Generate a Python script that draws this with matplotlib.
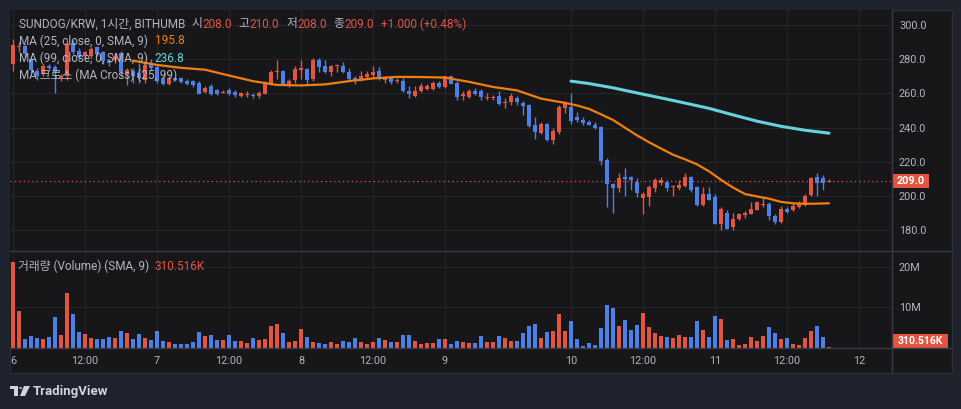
import numpy as np
import matplotlib
matplotlib.use('Agg')
import matplotlib.pyplot as plt
import matplotlib.transforms as mtransforms
from matplotlib.patches import Rectangle, Polygon, Circle

# --- data (1h candles, SUNDOG/KRW) ---
opens = [277.1, 287.0, 288.0, 280.4, 273.0, 271.6, 276.0, 275.5, 269.3, 270.0,
         289.5, 285.0, 282.0, 282.0, 287.0, 284.0, 279.0, 279.5, 283.5, 271.5,
         273.0, 272.0, 268.0, 277.5, 275.5, 268.7, 265.8, 269.0, 269.0, 267.5,
         267.3, 266.1, 260.9, 264.4, 261.9, 260.4, 261.9, 260.9, 258.4, 258.9,
         259.3, 258.6, 259.9, 265.8, 272.5, 273.2, 265.4, 268.1, 274.0, 274.1,
         268.7, 279.8, 275.9, 272.6, 276.0, 275.9, 272.6, 269.3, 268.1, 269.7,
         270.6, 273.2, 268.1, 269.3, 267.5, 267.3, 261.5, 258.6, 261.5, 262.8,
         262.8, 266.1, 263.8, 270.0, 266.1, 258.8, 258.0, 261.5, 261.5, 257.2,
         257.3, 258.6, 254.3, 255.0, 257.4, 254.5, 253.1, 241.6, 236.9, 242.0,
         233.0, 237.5, 251.5, 252.1, 246.3, 244.7, 243.3, 241.8, 240.4, 220.9,
         206.9, 204.7, 211.2, 211.2, 208.3, 199.1, 199.5, 204.7, 207.7, 208.3,
         205.3, 204.7, 205.9, 211.2, 205.3, 195.0, 201.4, 199.5, 183.9, 190.1,
         182.0, 186.8, 188.8, 189.7, 192.1, 195.0, 195.6, 188.2, 184.9, 192.7,
         192.1, 193.6, 195.0, 200.8, 211.2, 210.6, 208.0]
highs = [292.1, 290.0, 289.0, 282.0, 275.0, 277.0, 277.0, 276.5, 271.5, 291.0,
         291.0, 286.5, 285.0, 287.0, 288.0, 285.0, 280.0, 283.0, 285.0, 275.0,
         275.0, 278.0, 278.0, 280.0, 277.0, 270.0, 270.0, 269.5, 269.5, 268.5,
         268.0, 267.0, 264.5, 265.5, 262.5, 262.0, 263.0, 262.0, 261.0, 261.5,
         260.5, 261.5, 267.0, 274.0, 279.8, 274.0, 268.7, 276.0, 279.8, 275.0,
         280.5, 280.5, 279.8, 276.5, 277.5, 278.4, 275.0, 270.3, 273.2, 273.2,
         275.9, 275.5, 270.0, 270.0, 269.3, 269.3, 264.2, 264.2, 266.0, 265.8,
         267.0, 267.3, 270.5, 270.5, 267.0, 261.5, 262.5, 263.2, 262.5, 260.3,
         259.0, 261.5, 257.4, 260.3, 258.6, 255.6, 254.0, 246.3, 243.3, 243.0,
         240.0, 253.5, 255.5, 260.3, 249.2, 246.3, 244.3, 243.3, 241.0, 222.3,
         207.5, 213.5, 216.6, 212.0, 210.6, 202.4, 206.3, 210.6, 211.2, 209.2,
         206.3, 209.2, 213.5, 212.0, 206.0, 205.3, 205.3, 201.4, 193.5, 191.7,
         190.1, 190.1, 191.0, 196.6, 197.0, 199.5, 196.6, 189.7, 194.2, 193.6,
         196.0, 197.2, 201.4, 211.2, 213.5, 212.6, 210.0]
lows = [273.0, 284.0, 281.0, 272.0, 268.0, 270.0, 273.0, 260.5, 267.0, 268.0,
        283.0, 280.0, 281.0, 281.0, 282.0, 277.0, 276.0, 278.0, 270.0, 265.0,
        266.0, 266.0, 266.0, 274.0, 266.0, 265.0, 265.0, 267.5, 266.0, 265.0,
        264.0, 259.5, 260.0, 259.0, 259.0, 260.0, 259.0, 258.0, 258.0, 258.0,
        257.5, 257.5, 259.5, 265.0, 268.7, 265.0, 263.8, 266.0, 268.7, 265.8,
        267.5, 272.6, 272.0, 270.3, 272.6, 272.0, 268.0, 265.8, 267.3, 268.7,
        269.7, 268.1, 266.3, 265.8, 266.1, 261.0, 257.6, 258.0, 261.0, 261.8,
        262.0, 263.2, 263.0, 265.5, 256.4, 256.4, 257.5, 259.0, 256.4, 256.4,
        256.4, 253.5, 251.5, 253.5, 253.5, 247.6, 240.4, 233.6, 236.1, 232.2,
        230.7, 236.5, 248.6, 242.4, 243.3, 241.8, 241.4, 239.4, 218.0, 193.6,
        190.1, 202.4, 200.1, 203.4, 199.5, 189.7, 194.2, 202.4, 206.3, 202.8,
        200.1, 203.4, 205.3, 202.4, 194.2, 194.5, 197.5, 183.5, 180.4, 180.5,
        180.4, 186.3, 187.4, 189.5, 191.7, 193.6, 185.8, 183.5, 184.3, 190.1,
        191.3, 193.0, 194.5, 200.1, 200.1, 203.8, 208.0]
closes = [288.2, 287.5, 283.0, 273.6, 270.0, 275.9, 275.0, 272.5, 270.0, 289.0,
          284.5, 281.5, 284.0, 286.0, 283.0, 279.0, 278.0, 282.0, 272.5, 273.5,
          270.0, 269.0, 276.5, 275.1, 267.1, 265.8, 269.1, 268.0, 266.7, 265.8,
          264.8, 259.9, 263.4, 259.5, 259.9, 260.6, 259.9, 258.9, 260.5, 259.1,
          258.4, 260.3, 265.8, 272.6, 273.0, 265.4, 267.3, 274.5, 274.5, 268.1,
          279.8, 275.5, 272.6, 275.9, 276.3, 272.6, 268.7, 268.1, 270.0, 271.6,
          272.6, 268.7, 269.3, 266.7, 267.8, 261.5, 259.9, 261.5, 264.2, 264.2,
          266.1, 263.8, 270.0, 265.8, 258.0, 259.2, 261.5, 259.9, 258.0, 257.5,
          257.5, 254.1, 254.6, 258.6, 255.0, 252.7, 241.0, 237.5, 242.0, 232.6,
          238.1, 252.1, 254.5, 243.9, 244.7, 242.8, 241.8, 240.0, 220.5, 206.9,
          204.7, 210.6, 210.2, 209.2, 202.0, 201.4, 205.3, 209.2, 209.2, 204.7,
          205.5, 206.3, 211.2, 203.8, 195.0, 201.4, 197.9, 183.9, 192.7, 181.0,
          186.9, 189.3, 190.1, 192.7, 196.6, 195.3, 188.2, 184.9, 192.7, 190.7,
          194.2, 196.0, 200.1, 210.6, 207.9, 207.9, 209.0]
volume_m = [21.3, 9.2, 2.2, 3.0, 2.5, 2.3, 2.8, 7.7, 3.3, 13.6, 8.4, 4.0, 3.5, 2.5, 2.3, 2.3,
            2.8, 2.5, 4.3, 3.8, 2.3, 3.5, 2.5, 2.0, 4.3, 1.8, 1.6, 1.1, 1.1, 1.1, 1.6, 4.0,
            3.0, 3.3, 2.0, 2.0, 3.3, 1.8, 1.8, 1.3, 2.5, 2.0, 2.3, 5.5, 6.0, 3.8, 1.6, 1.8,
            4.8, 2.8, 1.6, 1.3, 1.1, 1.6, 1.1, 1.8, 1.6, 2.5, 1.6, 1.1, 1.6, 2.5, 2.0, 1.6,
            1.6, 3.3, 3.3, 1.8, 1.1, 1.3, 1.3, 2.3, 2.3, 1.1, 1.8, 1.6, 1.3, 1.3, 3.0, 1.6,
            1.6, 3.0, 2.5, 1.8, 1.8, 3.8, 5.5, 6.0, 2.5, 4.0, 4.3, 8.4, 4.3, 6.7, 2.3, 0.6,
            1.3, 0.8, 5.0, 10.7, 9.9, 5.5, 7.0, 4.5, 5.7, 8.7, 5.2, 3.8, 3.0, 2.8, 2.5, 3.3,
            2.8, 2.8, 6.7, 4.5, 2.8, 8.0, 7.2, 2.0, 2.3, 0.8, 1.1, 2.8, 1.8, 3.0, 5.2, 3.8,
            2.3, 2.5, 1.1, 0.8, 2.5, 4.3, 5.5, 2.8, 0.31]

# moving averages (smoothed), sampled from the chart at bar indices
ma25_idx = [20, 24, 28, 32, 36, 40, 44, 48, 52, 56, 60, 64, 68, 72, 76, 80, 84, 88, 92, 94,
            96, 98, 100, 102, 104, 106, 108, 110, 112, 114, 116, 118, 120, 122, 124, 126,
            128, 130, 132, 134, 136]
ma25_val = [279.2, 276.7, 275.0, 273.9, 270.5, 267.2, 265.0, 264.7, 265.3, 267.2, 268.8,
            269.7, 269.6, 269.3, 266.8, 263.8, 261.8, 257.0, 254.5, 253.0, 251.0, 247.8,
            244.5, 240.0, 235.5, 231.5, 227.8, 224.2, 221.5, 218.6, 214.5, 209.5, 205.0,
            201.2, 199.8, 198.5, 196.6, 195.8, 195.5, 195.6, 195.8]
ma99_idx = [93, 96, 100, 104, 108, 112, 116, 120, 124, 128, 132, 136]
ma99_val = [267.2, 265.8, 263.3, 260.3, 257.4, 254.4, 251.3, 247.5, 243.8, 240.8, 238.5, 236.8]

tick_pos = [0, 12, 24, 36, 48, 60, 72, 93, 105, 117, 129, 141]
tick_lab = ['6', '12:00', '7', '12:00', '8', '12:00', '9', '10', '12:00', '11', '12:00', '12']
price_ticks = [180, 200, 220, 240, 260, 280, 300]
vol_ticks = [10, 20]
vol_tick_lab = ['10M', '20M']

# --- style ---
W, H = 962, 409
BG_OUT = '#1e222d'
BG_IN = '#17171a'
GRID = '#25252a'
SEP = '#363a45'
TXT = '#b2b5be'
RED = '#e35441'
BLUE = '#4a80e8'
ORANGE = '#f27e11'
CYAN = '#66d3dc'
FAM = ['Roboto', 'Noto Sans CJK KR', 'DejaVu Sans']

n = len(closes)
assert len(opens) == len(highs) == len(lows) == len(volume_m) == n
x = np.arange(n)
o = np.array(opens); c = np.array(closes)
up = c >= o
cols = np.where(up, RED, BLUE)

fig = plt.figure(figsize=(W / 100, H / 100), dpi=100, facecolor=BG_OUT)


def fx(px):
    return px / W


def fy(py):
    return 1 - py / H


# chart panel (behind the axes)
fig.patches.append(Rectangle((fx(10), fy(373)), fx(952) - fx(10), fy(10) - fy(373),
                             transform=fig.transFigure, fc=BG_IN, ec='#2a2d36', lw=1, zorder=-5))

ax = fig.add_axes([fx(10), fy(251), fx(892) - fx(10), fy(10) - fy(251)], facecolor=BG_IN)
axv = fig.add_axes([fx(10), fy(348), fx(892) - fx(10), fy(251) - fy(348)], facecolor=BG_IN, sharex=ax)

for a in (ax, axv):
    for s in a.spines.values():
        s.set_visible(False)
    a.set_axisbelow(True)
    a.grid(True, color=GRID, lw=0.8)

# candles
bw = 0.75
body_bottom = np.minimum(o, c)
body_h = np.maximum(np.abs(c - o), 0.6)
ax.vlines(x, lows, highs, colors=cols, lw=1.0, zorder=2)
ax.bar(x, body_h, bw, bottom=body_bottom, color=cols, lw=0, zorder=3)

# moving averages
ax.plot(ma25_idx, ma25_val, color=ORANGE, lw=1.6, zorder=4, solid_capstyle='round')
ax.plot(ma99_idx, ma99_val, color=CYAN, lw=2.2, zorder=4, solid_capstyle='round')

# last price line
ax.axhline(closes[-1], color=RED, lw=0.9, ls=(0, (1, 2.5)), zorder=1)

ax.set_xlim(-0.5, 146.5)
ax.set_ylim(167.9, 308.8)
ax.yaxis.tick_right()
ax.set_yticks(price_ticks)
ax.set_yticklabels([f'{v:.1f}' for v in price_ticks])
ax.tick_params(axis='y', length=0, pad=5, labelsize=7.8, labelcolor=TXT)
ax.tick_params(axis='x', length=0, labelbottom=False)
for t in ax.get_yticklabels():
    t.set_family(FAM)

# volume
axv.bar(x, volume_m, 0.78, color=cols, lw=0, zorder=2)
axv.set_ylim(0, 23.9)
axv.yaxis.tick_right()
axv.set_yticks(vol_ticks)
axv.set_yticklabels(vol_tick_lab)
axv.set_xticks(tick_pos)
axv.set_xticklabels(tick_lab)
axv.tick_params(axis='y', length=0, pad=5, labelsize=7.8, labelcolor=TXT)
axv.tick_params(axis='x', length=0, pad=6, labelsize=7.8, labelcolor=TXT)
for t in axv.get_yticklabels() + axv.get_xticklabels():
    t.set_family(FAM)

# separators
for (x0, y0, x1, y1) in [(10, 251, 952, 251), (10, 348, 952, 348), (892, 10, 892, 373)]:
    fig.add_artist(plt.Line2D([fx(x0), fx(x1)], [fy(y0), fy(y1)], color=SEP, lw=1,
                              transform=fig.transFigure))

# price label box
tr = mtransforms.blended_transform_factory(fig.transFigure, ax.transData)
ax.add_patch(Rectangle((fx(892), closes[-1] - 4.2), fx(929) - fx(892), 8.4, transform=tr,
                       fc=RED, ec='none', clip_on=False, zorder=6))
ax.text(fx(910.5), closes[-1], f'{closes[-1]:.1f}', transform=tr, ha='center', va='center',
        color='white', fontsize=7.8, fontweight='bold', family=FAM, zorder=7, clip_on=False)

trv = mtransforms.blended_transform_factory(fig.transFigure, axv.transAxes)
axv.add_patch(Rectangle((fx(892), 0.0), fx(948) - fx(892), 14 / 97, transform=trv,
                        fc=RED, ec='none', clip_on=False, zorder=6))
axv.text(fx(920), 7 / 97, '310.516K', transform=trv, ha='center', va='center',
         color='white', fontsize=7.5, fontweight='bold', family=FAM, zorder=7, clip_on=False)

# legends
fig.canvas.draw()
renderer = fig.canvas.get_renderer()


def put_row(x0, y, parts, size=8.5):
    xx = x0
    for s, col, gap in parts:
        t = fig.text(fx(xx), fy(y), s, color=col, fontsize=size, family=FAM,
                     ha='left', va='center', zorder=10)
        bb = t.get_window_extent(renderer)
        xx += bb.width + gap


put_row(19, 24, [('SUNDOG/KRW, 1시간, BITHUMB', TXT, 6), ('시', TXT, 0), ('208.0', RED, 7),
                 ('고', TXT, 0), ('210.0', RED, 7), ('저', TXT, 0), ('208.0', RED, 7),
                 ('종', TXT, 0), ('209.0', RED, 7), ('+1.000 (+0.48%)', RED, 0)])
put_row(19, 41, [('MA (25, close, 0, SMA, 9)', TXT, 7), ('195.8', ORANGE, 0)])
put_row(19, 58, [('MA (99, close, 0, SMA, 9)', TXT, 7), ('236.8', CYAN, 0)])
put_row(19, 75, [('MA 크로스 (MA Cross) (25, 99)', TXT, 0)])
put_row(18, 266, [('거래량 (Volume) (SMA, 9)', TXT, 5), ('310.516K', RED, 0)])

# TradingView mark
LOGO = '#d1d4dc'
fig.patches.append(Rectangle((fx(10), fy(389)), fx(18) - fx(10), fy(386) - fy(389),
                             transform=fig.transFigure, fc=LOGO, ec='none'))
fig.patches.append(Rectangle((fx(14.5), fy(396)), fx(18) - fx(14.5), fy(386) - fy(396),
                             transform=fig.transFigure, fc=LOGO, ec='none'))
fig.patches.append(Circle((fx(20.5), fy(388)), 1.8 / W, transform=fig.transFigure, fc=LOGO, ec='none'))
fig.patches.append(Polygon([(fx(24), fy(386)), (fx(30), fy(386)), (fx(25), fy(396)), (fx(20), fy(396))],
                           closed=True, transform=fig.transFigure, fc=LOGO, ec='none'))
fig.text(fx(33), fy(391), 'TradingView', color=LOGO, fontsize=9.5, fontweight='bold',
         family=FAM, ha='left', va='center')

fig.savefig('out.png', dpi=100, facecolor=BG_OUT)
